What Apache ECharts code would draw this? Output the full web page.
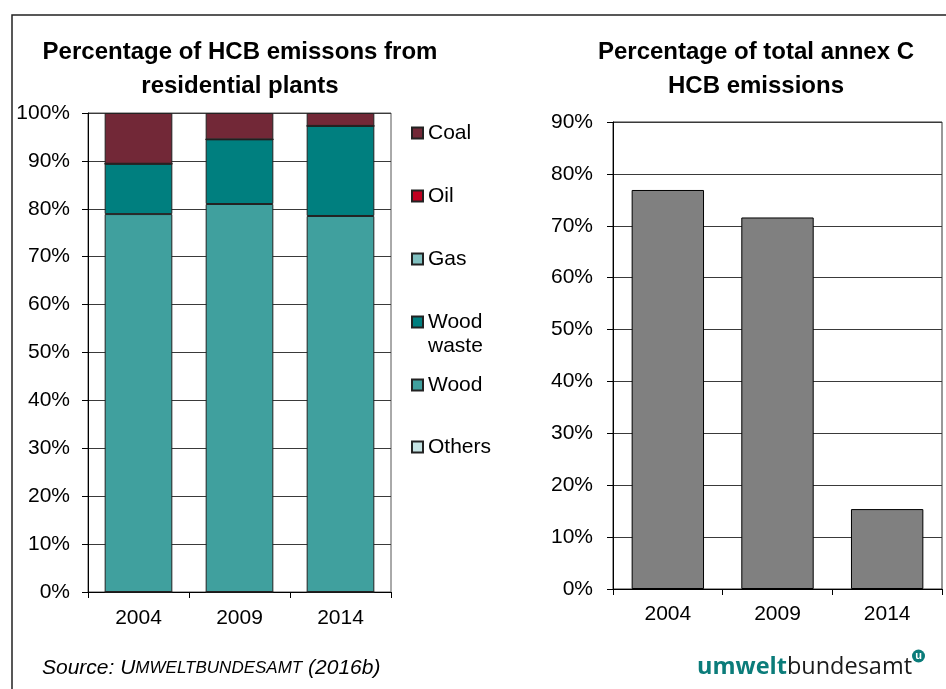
<!DOCTYPE html>
<html>
<head>
<meta charset="utf-8">
<title>HCB emissions</title>
<script src="https://cdn.jsdelivr.net/npm/echarts@6/dist/echarts.min.js"></script>
<style>
  html, body { margin: 0; padding: 0; background: #fff; }
  #chart { width: 946px; height: 689px; }
</style>
</head>
<body>
<div id="chart"></div>
<script>
// Years shown on both charts
const years = ['2004', '2009', '2014'];

// Left chart: share of HCB emissions from residential plants by fuel (%)
const others = [0, 0, 0];
const wood = [78.9, 81.0, 78.5];
const woodWaste = [10.5, 13.5, 18.8];
const gas = [0, 0, 0];
const oil = [0, 0, 0];
const coal = [10.6, 5.5, 2.7];

// Right chart: share of total annex C HCB emissions (%)
const annexShare = [76.9, 71.6, 15.4];

// Axis ranges (percent)
const leftAxisMax = 100;
const rightAxisMax = 90;
const axisStep = 10;

const FONT = '"Liberation Sans", Arial, sans-serif';
const ink = '#000';
const segBorder = '#222';

const fuelSeries = [
  { name: 'Others', data: others, color: '#c6e4e4' },
  { name: 'Wood', data: wood, color: '#40a09e' },
  { name: 'Wood waste', data: woodWaste, color: '#007f7f' },
  { name: 'Gas', data: gas, color: '#80c0c0' },
  { name: 'Oil', data: oil, color: '#c00020' },
  { name: 'Coal', data: coal, color: '#722837' }
];

// Legend rows, top to bottom (icon centre heights)
const legendRows = [
  { name: 'Coal', y: 133 },
  { name: 'Oil', y: 196 },
  { name: 'Gas', y: 259 },
  { name: 'Wood waste', y: 322, twoLine: true },
  { name: 'Wood', y: 385 },
  { name: 'Others', y: 447 }
];

const legendLine = 24;
const legends = legendRows.map(function (r) {
  const lg = {
    data: [{ name: r.name, icon: 'rect' }],
    left: 411,
    orient: 'vertical',
    selectedMode: false,
    itemWidth: 11,
    itemHeight: 11,
    padding: 0,
    textStyle: { fontFamily: FONT, fontSize: 21, color: ink, lineHeight: legendLine }
  };
  if (r.twoLine) {
    // blank first line keeps the icon level with "Wood"
    lg.formatter = function () { return ' \nWood\nwaste'; };
    lg.top = r.y - legendLine * 1.5;
  } else {
    lg.top = r.y - legendLine / 2;
  }
  return lg;
});

function valueAxis(gridIndex, max, margin) {
  return {
    type: 'value', gridIndex: gridIndex, min: 0, max: max, interval: axisStep,
    axisLine: { show: true, lineStyle: { color: ink, width: 1 } },
    axisTick: { show: true, length: 6, lineStyle: { color: ink } },
    axisLabel: { formatter: '{value}%', fontFamily: FONT, fontSize: 21, color: ink, margin: margin },
    splitLine: { show: true, lineStyle: { color: '#3a3a3a', width: 1 } }
  };
}

function categoryAxis(gridIndex, margin) {
  return {
    type: 'category', gridIndex: gridIndex, data: years,
    axisLine: { show: true, lineStyle: { color: ink, width: 1 } },
    axisTick: { show: true, length: 6, alignWithLabel: false, lineStyle: { color: ink } },
    axisLabel: { fontFamily: FONT, fontSize: 21, color: ink, margin: margin }
  };
}

const series = fuelSeries.map(function (s) {
  return {
    name: s.name, type: 'bar', stack: 'fuel', xAxisIndex: 0, yAxisIndex: 0,
    data: s.data, barCategoryGap: '33%',
    itemStyle: { color: s.color, borderColor: segBorder, borderWidth: 1 }
  };
});
series.push({
  name: 'Annex C share', type: 'bar', xAxisIndex: 1, yAxisIndex: 1,
  data: annexShare, barCategoryGap: '34%',
  itemStyle: { color: '#808080', borderColor: '#000', borderWidth: 1 }
});

const option = {
  animation: false,
  backgroundColor: '#fff',
  title: [
    {
      text: 'Percentage of HCB emissons from\nresidential plants',
      left: 240, top: 35, textAlign: 'center', padding: 0,
      textStyle: { fontFamily: FONT, fontSize: 24, fontWeight: 'bold', color: ink, lineHeight: 34 }
    },
    {
      text: 'Percentage of total annex C\nHCB emissions',
      left: 756, top: 35, textAlign: 'center', padding: 0,
      textStyle: { fontFamily: FONT, fontSize: 24, fontWeight: 'bold', color: ink, lineHeight: 34 }
    }
  ],
  legend: legends,
  grid: [
    { left: 88, top: 113, width: 303, height: 479, show: true, borderColor: '#555', borderWidth: 1 },
    { left: 613, top: 122, width: 329, height: 467, show: true, borderColor: '#333', borderWidth: 1 }
  ],
  xAxis: [categoryAxis(0, 16), categoryAxis(1, 15)],
  yAxis: [valueAxis(0, leftAxisMax, 18), valueAxis(1, rightAxisMax, 20)],
  series: series,
  graphic: [
    // outer frame
    {
      type: 'rect', shape: { x: 12, y: 15, width: 960, height: 700 },
      style: { fill: 'none', stroke: '#222', lineWidth: 1.5 }, silent: true, z: 0
    },
    // source line
    {
      type: 'text', left: 42, top: 658,
      style: {
        text: '{a|Source: U}{b|MWELTBUNDESAMT}{a| (2016b)}',
        rich: {
          a: { fontFamily: FONT, fontStyle: 'italic', fontSize: 21, fill: ink },
          b: { fontFamily: FONT, fontStyle: 'italic', fontSize: 17, fill: ink }
        }
      }
    },
    // logo wordmark
    {
      type: 'text', left: 697, top: 655,
      style: {
        text: '{u|umwelt}{v|bundesamt}',
        rich: {
          u: { fontFamily: '"Open Sans", sans-serif', fontWeight: 'bold', fontSize: 23.5, fill: '#0b7c7a' },
          v: { fontFamily: '"Open Sans", sans-serif', fontSize: 23.5, fill: '#1a1a1a' }
        }
      }
    },
    {
      type: 'circle', shape: { cx: 918.5, cy: 656, r: 6.5 },
      style: { fill: '#0b7c7a' }
    },
    {
      type: 'text', x: 918.5, y: 656,
      style: { text: 'u', align: 'center', verticalAlign: 'middle', fontFamily: FONT, fontWeight: 'bold', fontSize: 11, fill: '#fff' }
    }
  ]
};

const chart = echarts.init(document.getElementById('chart'), null, { renderer: 'canvas' });
chart.setOption(option);
</script>
</body>
</html>
